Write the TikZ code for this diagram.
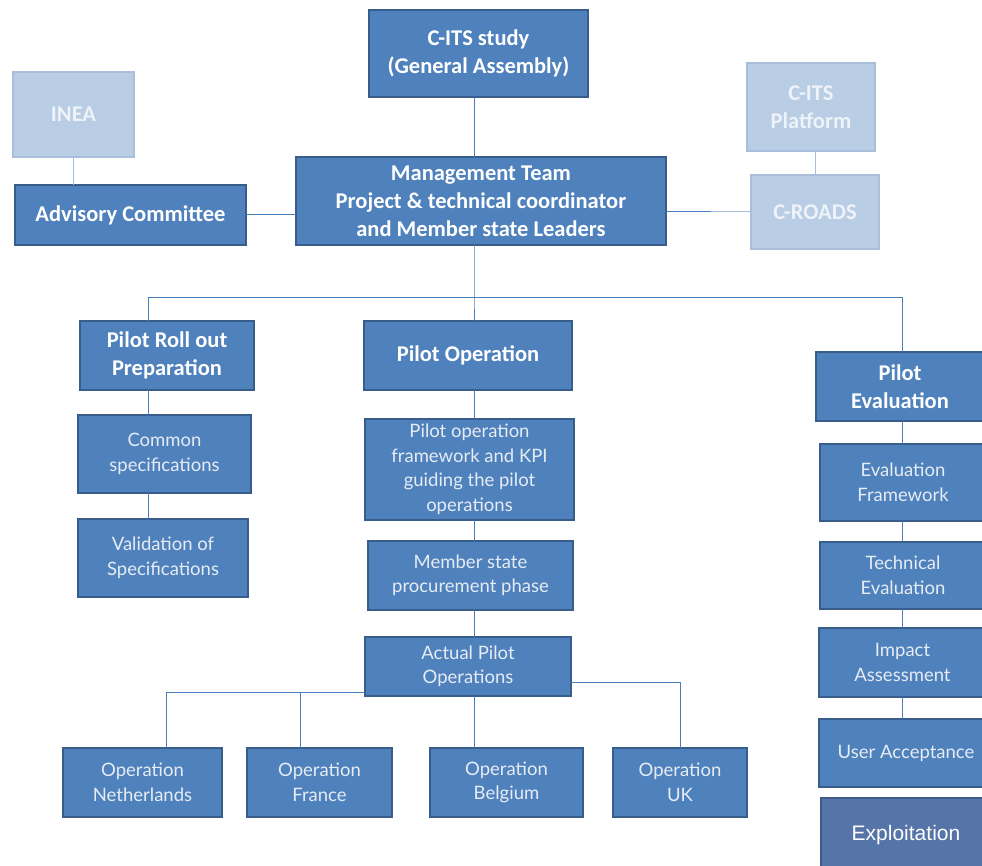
\documentclass[tikz,border=0pt]{standalone}
\usepackage{fontspec}
\usepackage{tikz}
\usetikzlibrary{positioning}

\newfontfamily\headfont{Carlito}
\newfontfamily\taskfont{Lato}
\newfontfamily\explfont{Liberation Sans}

\definecolor{boxfill}{HTML}{4F81BD}
\definecolor{boxedge}{HTML}{385D8A}
\definecolor{palefill}{HTML}{B9CDE5}
\definecolor{paleedge}{HTML}{A9BEDA}
\definecolor{paletext}{HTML}{EEF3F9}
\definecolor{tasktext}{HTML}{E6ECF4}
\definecolor{explfill}{HTML}{5574A7}
\definecolor{expledge}{HTML}{3F5B8C}
\definecolor{linkcol}{HTML}{4A7EBB}
\definecolor{palelink}{HTML}{A7BFDE}

\tikzset{
  box/.style={draw=boxedge, fill=boxfill, line width=1.6pt, inner sep=0pt, outer sep=0pt, align=center, text=white},
  head/.style={box, font=\headfont\bfseries\fontsize{22.5}{28}\selectfont},
  task/.style={box, text=tasktext, font=\taskfont\fontsize{18.5}{24.5}\selectfont},
  pale/.style={draw=paleedge, fill=palefill, line width=1.6pt, inner sep=0pt, outer sep=0pt, align=center, text=paletext, font=\headfont\bfseries\fontsize{22.5}{28}\selectfont},
  link/.style={draw=linkcol, line width=1pt},
  palelk/.style={draw=palelink, line width=1pt},
}

\begin{document}
\begin{tikzpicture}[x=1pt, y=-1pt]
    \useasboundingbox (0,0) rectangle (982,866);
    \clip (0,0) rectangle (982,866);

    \node[head, minimum width=219pt, minimum height=87pt] (cits) at (478.5,53.5) {C-ITS study\\(General Assembly)};
    \node[head, minimum width=370pt, minimum height=88pt, below=60pt of cits, xshift=2.5pt] (mt) {Management Team\\Project \& technical coordinator\\and Member state Leaders};
    \node[head, minimum width=231pt, minimum height=60pt, left=50pt of mt, yshift=-14pt] (adv) {Advisory Committee};
    \node[pale, minimum width=121pt, minimum height=85pt, above=28pt of adv, xshift=-57pt] (inea) {INEA};
    \node[pale, minimum width=128pt, minimum height=74pt, right=85pt of mt, yshift=-11pt] (croads) {C-ROADS};
    \node[pale, minimum width=128pt, minimum height=88pt, above=24pt of croads, xshift=-4pt] (plat) {C-ITS\\Platform};

    \node[head, minimum width=174pt, minimum height=69pt] (prp) at (167,355.5) {Pilot Roll out\\Preparation};
    \node[task, minimum width=173pt, minimum height=78pt, below=25pt of prp, xshift=-2.5pt] (cs) {Common\\specifications};
    \node[task, minimum width=170pt, minimum height=78pt, below=26pt of cs, xshift=-1.5pt] (vs) {Validation of\\Specifications};

    \node[head, minimum width=208pt, minimum height=69pt] (po) at (468,355.5) {Pilot Operation};
    \node[task, minimum width=209pt, minimum height=101pt, below=29pt of po, xshift=1.5pt] (pof) {Pilot operation\\framework and KPI\\guiding the pilot\\operations};
    \node[task, minimum width=205pt, minimum height=69pt, below=21pt of pof, xshift=1pt] (msp) {Member state\\procurement phase};
    \node[task, minimum width=206pt, minimum height=59pt, below=27pt of msp, xshift=-2.5pt] (apo) {Actual Pilot\\Operations};

    \node[task, minimum width=159pt, minimum height=69pt] (onl) at (142.5,782.5) {Operation\\Netherlands};
    \node[task, minimum width=145pt, minimum height=69pt, right=25pt of onl] (ofr) {Operation\\France};
    \node[task, minimum width=153pt, minimum height=69pt, right=38pt of ofr] (obe) {Operation\\Belgium};
    \node[task, minimum width=134pt, minimum height=69pt, right=30pt of obe] (ouk) {Operation\\UK};

    \node[head, minimum width=168pt, minimum height=69pt] (pe) at (900,386.5) {Pilot\\Evaluation};
    \node[task, minimum width=166pt, minimum height=77pt, below=23pt of pe, xshift=3pt] (ef) {Evaluation\\Framework};
    \node[task, minimum width=166pt, minimum height=67pt, below=21pt of ef] (te) {Technical\\Evaluation};
    \node[task, minimum width=167pt, minimum height=69pt, below=19pt of te, xshift=-0.5pt] (ia) {Impact\\Assessment};
    \node[task, minimum width=174pt, minimum height=68pt, below=22pt of ia, xshift=3.5pt] (ua) {User Acceptance};
    \node[box, draw=expledge, fill=explfill, font=\explfont\fontsize{21}{25}\selectfont, minimum width=170pt, minimum height=74pt, below=11pt of ua] (expl) {Exploitation};

    \coordinate (lcol) at (148,298);
    \coordinate (bus) at (474,298);
    \coordinate (rcol) at (902,298);
    \coordinate (lbr) at (166,692);

    \draw[link] (bus |- cits.south) -- (bus |- mt.north);
    \draw[palelk] (inea.south) -- (inea.south |- adv.north);
    \draw[link] (adv.east) -- (adv.east -| mt.west);
    \draw[link] (croads.west -| mt.east) -- (croads.west);
    \draw[palelk] ([xshift=-40pt]croads.west) -- (croads.west);
    \draw[palelk] (croads.north) -- (croads.north |- plat.south);

    \draw[link] (bus |- mt.south) -- (bus) -- (bus |- po.north);
    \draw[link] (lcol |- prp.north) -- (lcol) -- (rcol) -- (rcol |- pe.north);

    \foreach \a/\b in {prp/cs, cs/vs}
        \draw[link] (lcol |- \a.south) -- (lcol |- \b.north);
    \foreach \a/\b in {po/pof, pof/msp, msp/apo, apo/obe}
        \draw[link] (bus |- \a.south) -- (bus |- \b.north);
    \foreach \a/\b in {pe/ef, ef/te, te/ia, ia/ua}
        \draw[link] (rcol |- \a.south) -- (rcol |- \b.north);

    \draw[link] (lbr -| apo.west) -- (lbr) -- (lbr |- onl.north);
    \draw[link] ([xshift=-19.5pt]ofr.north) -- ([xshift=-19.5pt]ofr.north |- lbr);
    \draw[link] ([yshift=14pt]apo.south east) -| (ouk.north);
\end{tikzpicture}
\end{document}
